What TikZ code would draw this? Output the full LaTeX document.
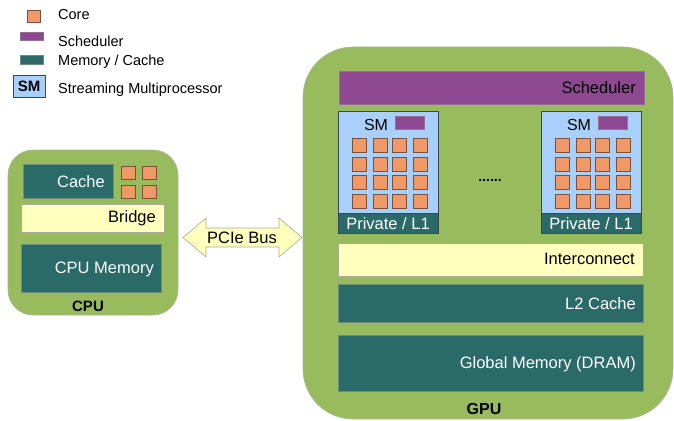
\documentclass[tikz,border=0pt]{standalone}
\usepackage{fontspec}
\setmainfont{Liberation Sans}
\definecolor{boardgreen}{RGB}{152,187,94}
\definecolor{boardedge}{RGB}{170,185,150}
\definecolor{tealfill}{RGB}{42,106,104}
\definecolor{tealedge}{RGB}{110,140,120}
\definecolor{purplefill}{RGB}{142,72,146}
\definecolor{purpleedge}{RGB}{150,110,150}
\definecolor{corefill}{RGB}{240,152,102}
\definecolor{coreedge}{RGB}{120,80,60}
\definecolor{yellowfill}{RGB}{255,255,190}
\definecolor{yellowedge}{RGB}{170,170,150}
\definecolor{smfill}{RGB}{168,208,250}
\definecolor{smedge}{RGB}{60,70,80}
\begin{document}
\begin{tikzpicture}[x=1pt,y=-1pt,
  box/.style={anchor=north west, inner sep=0pt, outer sep=0pt},
  board/.style={box, fill=boardgreen, draw=boardedge, line width=0.6pt},
  mem/.style={box, fill=tealfill, draw=tealedge, line width=0.5pt},
  sched/.style={box, fill=purplefill, draw=purpleedge, line width=0.5pt},
  core/.style={box, fill=corefill, draw=coreedge, line width=0.5pt},
  bus/.style={box, fill=yellowfill, draw=yellowedge, line width=0.5pt},
  smbox/.style={box, fill=smfill, draw=smedge, line width=0.6pt},
  wlabel/.style={anchor=east, text=white, font=\fontsize{16.5}{18}\selectfont, inner sep=0pt},
  blabel/.style={anchor=east, text=black, font=\fontsize{16.5}{18}\selectfont, inner sep=0pt},
  leglabel/.style={anchor=west, font=\fontsize{14.5}{16}\selectfont, inner sep=0pt},
  title/.style={font=\bfseries\fontsize{16}{18}\selectfont, inner sep=0pt}
]
\useasboundingbox (0,0) rectangle (674,420);

% ---------- Legend ----------
\node[core, minimum width=13, minimum height=12] (lcore) at (27,10) {};
\node[leglabel] (lcoret) at (58,15) {Core};
\node[sched, minimum width=23, minimum height=8] (lsched) at (20,32) {};
\node[leglabel] (lschedt) at (58,41) {Scheduler};
\node[mem, minimum width=23, minimum height=9] (lmem) at (20,55) {};
\node[leglabel] (lmemt) at (58,62) {Memory / Cache};
\node[smbox, minimum width=32, minimum height=22, font=\bfseries\fontsize{15}{16}\selectfont] (lsm) at (13,75) {SM};
\node[leglabel] (lsmt) at (58,90) {Streaming Multiprocessor};

% ---------- CPU ----------
\node[board, minimum width=170, minimum height=165, rounded corners=25] (cpu) at (8,150) {};
\node[mem, minimum width=90, minimum height=34] (cache) at (23,164) {};
\node[wlabel] (cachet) at (105,182) {Cache};
\node[core, minimum width=14, minimum height=13] (c1) at (121,166) {};
\node[core, minimum width=14, minimum height=13] (c2) at (142,166) {};
\node[core, minimum width=14, minimum height=13] (c3) at (121,185) {};
\node[core, minimum width=14, minimum height=13] (c4) at (142,185) {};
\node[bus, minimum width=143, minimum height=28] (bridge) at (21,204) {};
\node[blabel] (bridget) at (156,218) {Bridge};
\node[mem, minimum width=140, minimum height=48] (cpumem) at (21,244) {};
\node[wlabel] (cpumemt) at (154,269) {CPU Memory};
\node[title, font=\bfseries\fontsize{15}{17}\selectfont] (cpulabel) at (88,306) {CPU};

% ---------- PCIe bus ----------
\draw[fill=yellowfill, draw=yellowedge, line width=0.6pt]
  (183,237.5) -- (206,218) -- (206,228) -- (279,228) -- (279,218) -- (302,237.5)
  -- (279,257) -- (279,247) -- (206,247) -- (206,257) -- cycle;
\node[font=\fontsize{16.5}{18}\selectfont, inner sep=0pt] (pcie) at (242,238) {PCIe Bus};

% ---------- GPU ----------
\node[board, minimum width=370, minimum height=372, rounded corners=50] (gpu) at (303,47) {};
\node[sched, minimum width=305, minimum height=33] (gsched) at (339,71) {};
\node[blabel] (gschedt) at (636,88) {Scheduler};

\foreach \s/\x in {a/338, b/541} {
  \node[smbox, minimum width=100, minimum height=122] (sm\s) at (\x,111) {};
  \node[font=\fontsize{16}{18}\selectfont, inner sep=0pt] (sm\s t) at (\x+38,125) {SM};
  \node[sched, minimum width=29, minimum height=13] (sm\s s) at (\x+57,116) {};
  \foreach \cx [count=\i] in {14,35,54,75} {
    \foreach \cy [count=\j] in {138,157,175,194} {
      \node[core, minimum width=14, minimum height=14] (sm\s c\i\j) at (\x+\cx,\cy) {};
    }
  }
  \node[mem, minimum width=100, minimum height=20, draw=smedge] (sm\s l) at (\x,213) {};
  \node[text=white, font=\fontsize{16.5}{18}\selectfont, inner sep=0pt] (sm\s lt) at (\x+50,223.5) {Private / L1};
}
\node[font=\bfseries\fontsize{14}{16}\selectfont, inner sep=0pt] (dots) at (490,180) {......};

\node[bus, minimum width=305, minimum height=33] (inter) at (338,243) {};
\node[blabel] (intert) at (635,259) {Interconnect};
\node[mem, minimum width=305, minimum height=38] (l2) at (338,284) {};
\node[wlabel] (l2t) at (636,304) {L2 Cache};
\node[mem, minimum width=305, minimum height=56] (glob) at (338,335) {};
\node[wlabel] (globt) at (636,364) {Global Memory (DRAM)};
\node[title] (gpulabel) at (484,409) {GPU};
\end{tikzpicture}
\end{document}
